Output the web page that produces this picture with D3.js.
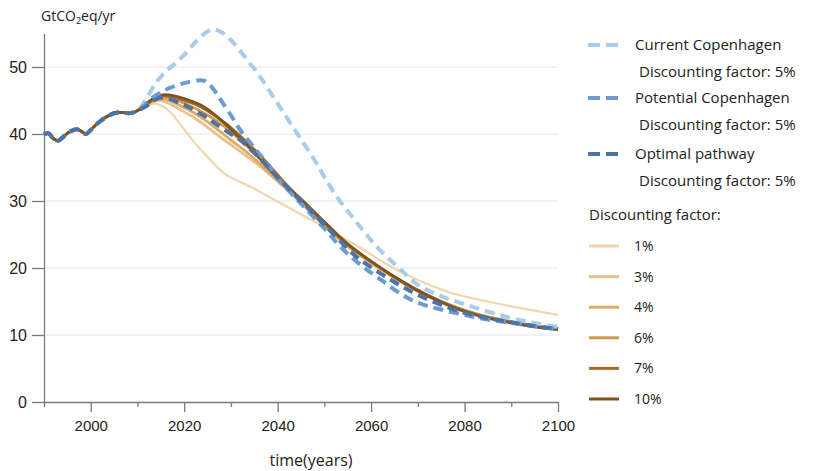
<!DOCTYPE html>
<html>
<head>
<meta charset="utf-8">
<script src="https://cdn.jsdelivr.net/npm/d3@7"></script>
<style>
    body { margin: 0; background: #fff; }
    svg { display: block; font-family: "Open Sans", sans-serif; }
</style>
</head>
<body>
<div id="chart"></div>
<script>

// Data ///////////////////////////////////////////////////////////////////////

const histYears  = [1990, 1991, 1992, 1993, 1994, 1995, 1996, 1997, 1998, 1999, 2000,
                    2001, 2002, 2003, 2004, 2005, 2006, 2007, 2008, 2009, 2010];
const histValues = [40.0, 40.1, 39.3, 39.0, 39.5, 40.1, 40.5, 40.7, 40.4, 40.0, 40.6,
                    41.3, 41.9, 42.4, 42.8, 43.1, 43.2, 43.2, 43.1, 43.2, 43.5];

const currentCph = [[2011, 44.3], [2012, 45.4], [2014, 47.7], [2016, 49.3], [2018, 50.5],
    [2020, 51.8], [2022, 53.4], [2024, 54.8], [2026, 55.6], [2028, 55.2], [2030, 54.0],
    [2032, 52.4], [2034, 50.6], [2036, 48.8], [2039, 45.6], [2042, 42.4], [2045, 39.2],
    [2048, 36.0], [2050, 33.6], [2053, 30.3], [2056, 27.6], [2059, 25.0], [2062, 22.6],
    [2066, 20.0], [2070, 17.5], [2075, 15.8], [2080, 14.6], [2085, 13.5], [2090, 12.5],
    [2095, 11.8], [2100, 11.2]];

const potentialCph = [[2011, 44.0], [2012, 44.6], [2013, 45.3], [2015, 46.2], [2017, 46.9],
    [2020, 47.6], [2023, 48.0], [2024.5, 47.9], [2025.5, 47.3], [2027, 46.0], [2028, 44.9],
    [2030, 42.8], [2032, 40.6], [2034, 38.8], [2036, 37.1], [2038, 35.4], [2040, 33.4],
    [2045, 29.6], [2050, 25.9], [2053, 23.5], [2056, 21.5], [2059, 19.8], [2062, 18.3],
    [2066, 16.3], [2070, 14.8], [2075, 13.8], [2080, 13.0], [2085, 12.3], [2090, 11.8],
    [2095, 11.3], [2100, 10.9]];

const optimal = [[2011, 43.8], [2012, 44.2], [2013, 44.8], [2015, 45.4], [2017, 45.2],
    [2019, 44.6], [2021, 44.0], [2023, 43.2], [2025, 42.4], [2027, 41.4], [2030, 40.0],
    [2032, 39.1], [2034, 37.8], [2036, 36.5], [2038, 35.0], [2040, 33.5], [2045, 30.0],
    [2049, 27.2], [2053, 24.3], [2057, 21.6], [2062, 19.2], [2066, 17.5], [2070, 16.0],
    [2075, 14.5], [2080, 13.3], [2085, 12.5], [2090, 11.9], [2095, 11.3], [2100, 10.9]];

const discount1 = [[2011, 43.9], [2012, 44.3], [2014, 44.5], [2016, 43.9], [2017.5, 42.9],
    [2019, 41.6], [2022, 38.9], [2025, 36.6], [2027, 35.1], [2029, 33.9], [2031.5, 33.0],
    [2034, 32.2], [2039, 30.3], [2044, 28.4], [2049, 26.5], [2053, 24.9], [2057.5, 23.1],
    [2064, 20.3], [2070, 18.2], [2077, 16.3], [2081, 15.6], [2085, 15.0], [2092, 14.0],
    [2100, 13.0]];

const discount3 = [[2011, 43.9], [2012, 44.3], [2014, 45.0], [2016, 44.8], [2019, 43.7],
    [2022, 42.5], [2025, 41.0], [2028, 39.4], [2030, 38.4], [2033, 36.9], [2036, 35.3],
    [2040, 32.9], [2045, 29.7], [2050, 26.3], [2055, 23.2], [2060, 20.7], [2065, 18.5],
    [2070, 16.5], [2075, 14.9], [2080, 13.6], [2085, 12.7], [2090, 11.9], [2095, 11.4],
    [2100, 11.0]];

const discount4 = [[2011, 43.9], [2012, 44.4], [2014, 45.2], [2016, 45.2], [2019, 44.3],
    [2022, 43.2], [2025, 41.8], [2028, 40.2], [2030, 39.1], [2033, 37.5], [2036, 35.7],
    [2040, 33.1], [2045, 29.9], [2050, 26.4], [2055, 23.3], [2060, 20.8], [2065, 18.6],
    [2070, 16.6], [2075, 15.0], [2080, 13.7], [2085, 12.7], [2090, 12.0], [2095, 11.4],
    [2100, 11.0]];

const discount6 = [[2011, 43.9], [2012, 44.5], [2015, 45.6], [2017, 45.4], [2020, 44.6],
    [2023, 43.6], [2026, 42.4], [2029, 40.9], [2032, 39.1], [2035, 37.2], [2038, 35.1],
    [2041, 32.9], [2045, 30.1], [2050, 26.6], [2055, 23.4], [2060, 20.9], [2065, 18.6],
    [2070, 16.6], [2075, 15.0], [2080, 13.7], [2085, 12.7], [2090, 11.9], [2095, 11.3],
    [2100, 10.9]];

const discount7 = [[2011, 43.9], [2012, 44.5], [2015, 45.7], [2017, 45.6], [2020, 45.0],
    [2023, 44.2], [2026, 43.0], [2029, 41.5], [2032, 39.7], [2035, 37.7], [2038, 35.5],
    [2041, 33.1], [2045, 30.2], [2050, 26.7], [2055, 23.5], [2060, 21.0], [2065, 18.7],
    [2070, 16.7], [2075, 15.0], [2080, 13.6], [2085, 12.6], [2090, 11.9], [2095, 11.3],
    [2100, 10.9]];

const discount10 = [[2011, 43.9], [2012, 44.6], [2015, 45.8], [2017, 45.8], [2020, 45.3],
    [2023, 44.5], [2025, 43.7], [2027, 42.6], [2029, 41.4], [2031, 40.0], [2033, 38.7],
    [2036, 36.5], [2038, 34.9], [2041, 32.7], [2045, 30.3], [2050, 26.9], [2055, 23.6],
    [2060, 21.0], [2065, 18.7], [2070, 16.6], [2075, 14.9], [2080, 13.5], [2085, 12.5],
    [2090, 11.8], [2095, 11.2], [2100, 10.8]];

const brownLabels = ["1%", "3%", "4%", "6%", "7%", "10%"];
const brownSeries = [discount1, discount3, discount4, discount6, discount7, discount10];
const blueLabels  = ["Current Copenhagen", "Potential Copenhagen", "Optimal pathway"];
const blueSeries  = [currentCph, potentialCph, optimal];
const blueSubtitle = "Discounting factor: 5%";

const xTicks = [1990, 2000, 2010, 2020, 2030, 2040, 2050, 2060, 2070, 2080, 2090, 2100];
const yTicks = [0, 10, 20, 30, 40, 50];


// Setup //////////////////////////////////////////////////////////////////////

const params = {
    width: 817,
    height: 471,
    x0: 44, x1: 558,
    y0: 402
};

const brownColors = ["#f1d5ae", "#e8c28c", "#dcab64", "#cf9a4e", "#a86b24", "#7e5322"];
const blueColors  = ["#a9cbec", "#6b9bd0", "#4c72a6"];

const history = histYears.map((yr, i) => [yr, histValues[i]]);
const full = s => history.concat(s);

const x = d3.scaleLinear()
    .domain([1990, 2100])
    .range([params.x0, params.x1]);

const y = d3.scaleLinear()
    .domain([0, 55])
    .range([params.y0, params.y0 - 55 * 6.7]);

const line = d3.line()
    .x(d => x(d[0]))
    .y(d => y(d[1]))
    .curve(d3.curveCatmullRom.alpha(0.5));

const svg = d3.select("#chart")
    .append("svg")
        .attr("width", params.width)
        .attr("height", params.height)
        .attr("viewBox", [0, 0, params.width, params.height]);


// Grid & axes ////////////////////////////////////////////////////////////////

svg.append("g")
    .selectAll("line")
    .data(yTicks.filter(d => d > 0))
    .join("line")
        .attr("x1", params.x0)
        .attr("x2", params.x1)
        .attr("y1", d => y(d))
        .attr("y2", d => y(d))
        .attr("stroke", "#e6e6e6")
        .attr("stroke-width", 1);

const xAxis = svg.append("g")
    .attr("transform", `translate(0, ${params.y0})`)
    .call(d3.axisBottom(x)
        .tickValues(xTicks)
        .tickSize(10)
        .tickSizeOuter(0)
        .tickPadding(8)
        .tickFormat(d => (d % 20 === 0 && d > 1990) ? d : ""));

xAxis.selectAll(".tick line")
    .attr("y2", d => (d % 20 === 0 && d > 1990) ? 10 : 5);

const yAxis = svg.append("g")
    .attr("transform", `translate(${params.x0}, 0)`)
    .call(d3.axisLeft(y)
        .tickValues(yTicks)
        .tickSize(12)
        .tickSizeOuter(0)
        .tickPadding(5));

svg.selectAll(".domain, .tick line")
    .attr("stroke", "#7a7a7a")
    .attr("stroke-width", 1.3);

svg.selectAll(".tick text")
    .attr("fill", "#222")
    .style("font-size", "15px");

yAxis.selectAll(".tick text").style("font-size", "16px");

svg.append("text")
    .attr("x", 311)
    .attr("y", 466)
    .attr("text-anchor", "middle")
    .attr("fill", "#222")
    .style("font-size", "16px")
    .text("time(years)");

const yLabel = svg.append("text")
    .attr("x", 41)
    .attr("y", 21)
    .attr("fill", "#222")
    .style("font-size", "14px");
yLabel.append("tspan").text("GtCO");
yLabel.append("tspan").attr("dy", 3).style("font-size", "9px").text("2");
yLabel.append("tspan").attr("dy", -3).text("eq/yr");


// Lines //////////////////////////////////////////////////////////////////////

svg.append("g")
    .selectAll("path")
    .data(brownSeries)
    .join("path")
        .attr("d", d => line(full(d)))
        .attr("fill", "none")
        .attr("stroke", (d, i) => brownColors[i])
        .attr("stroke-width", (d, i) => i === 0 ? 2.2 : 2.8);

svg.append("g")
    .selectAll("path")
    .data(blueSeries)
    .join("path")
        .attr("d", d => line(full(d)))
        .attr("fill", "none")
        .attr("stroke", (d, i) => blueColors[i])
        .attr("stroke-width", 4)
        .attr("stroke-dasharray", "10,6");


// Legend /////////////////////////////////////////////////////////////////////

const legend = svg.append("g");

const blueRows = [45, 98, 154];
blueLabels.forEach((label, i) => {
    const g = legend.append("g").attr("transform", `translate(588, ${blueRows[i]})`);
    g.append("line")
        .attr("x1", 0).attr("x2", 30)
        .attr("stroke", blueColors[i])
        .attr("stroke-width", 4)
        .attr("stroke-dasharray", "12,6");
    g.append("text")
        .attr("x", 47).attr("y", 5)
        .attr("fill", "#222")
        .style("font-size", "15px")
        .text(label);
    g.append("text")
        .attr("x", 51).attr("y", 32)
        .attr("fill", "#222")
        .style("font-size", "15px")
        .text(blueSubtitle);
});

legend.append("text")
    .attr("x", 589)
    .attr("y", 220)
    .attr("fill", "#222")
    .style("font-size", "15px")
    .text("Discounting factor:");

brownLabels.forEach((label, i) => {
    const g = legend.append("g").attr("transform", `translate(589, ${246 + i * 30.6})`);
    g.append("line")
        .attr("x1", 0).attr("x2", 30)
        .attr("stroke", brownColors[i])
        .attr("stroke-width", 3);
    g.append("text")
        .attr("x", 45).attr("y", 5)
        .attr("fill", "#222")
        .style("font-size", "14px")
        .text(label);
});

</script>
</body>
</html>
